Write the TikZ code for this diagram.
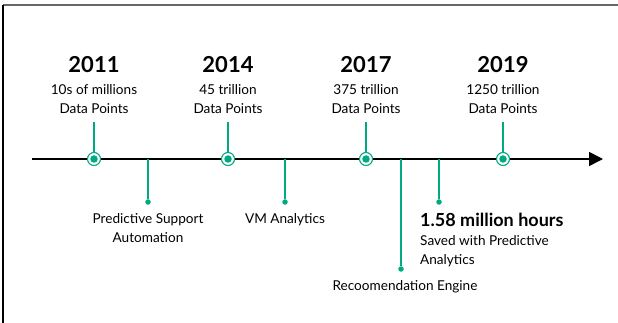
\documentclass[tikz,border=0pt]{standalone}
\usepackage{fontspec}
\setmainfont{Lato}
\usetikzlibrary{arrows.meta}
\definecolor{hpegreen}{HTML}{01A982}
\tikzset{
  x=1pt, y=-1pt,
  stem/.style={draw=hpegreen, line width=1.2pt},
  ring/.style={circle, draw=hpegreen, line width=1.1pt, fill=white, minimum size=13pt, inner sep=0pt},
  core/.style={circle, fill=hpegreen, minimum size=7.5pt, inner sep=0pt},
  tip/.style={circle, fill=hpegreen, minimum size=5.5pt, inner sep=0pt},
  year/.style={font=\fontsize{22}{24}\selectfont\bfseries, inner sep=0pt},
  lbl/.style={font=\fontsize{13.6}{19}\selectfont, align=center, inner sep=0pt},
  lbll/.style={font=\fontsize{13.6}{19}\selectfont, align=left, inner sep=0pt, anchor=north west},
}
\begin{document}
\begin{tikzpicture}
\useasboundingbox (0,0) rectangle (618,323);
% frame
\draw[gray!80!black, line width=1.3pt] (3,5) -- (618,5);
\draw[black, line width=1.3pt] (3,5) -- (3,323);
% timeline
\coordinate (start) at (32,159);
\coordinate (end) at (603,159);
\draw[line width=1.6pt, -{Triangle[length=14pt,width=14pt]}] (start) -- (end);

% top milestones
\foreach \n/\x/\yr/\a/\b in {a/94/2011/10s of millions/Data Points, b/228/2014/45 trillion/Data Points, c/366/2017/375 trillion/Data Points, d/503/2019/1250 trillion/Data Points}{
  \coordinate (\n top) at (\x,122);
  \node[ring] (\n ring) at (\x,159) {};
  \draw[stem] (\n top) -- (\n ring);
  \node[core] at (\n ring) {};
  \node[year] (\n year) at (\x,65) {\yr};
  \node[lbl, anchor=north] (\n txt) at (\x,84) {\a\\\b};
}

% bottom items
\foreach \n/\x/\y in {p/148/202, v/285/202, r/401/269, h/439/202}{
  \coordinate (\n base) at (\x,159);
  \node[tip] (\n dot) at (\x,\y) {};
  \draw[stem] (\n base) -- (\n dot);
}
\node[lbl, anchor=north] (ptxt) at (148,213) {Predictive Support\\Automation};
\node[lbl, anchor=north] (vtxt) at (285,213) {VM Analytics};
\node[lbl, anchor=north] (rtxt) at (405,280) {Recoomendation Engine};
\node[font=\fontsize{18}{20}\selectfont\bfseries, anchor=west, inner sep=0pt] (htitle) at (420,220) {1.58 million hours};
\node[lbll] (htxt) at (420,235) {Saved with Predictive\\Analytics};
\end{tikzpicture}
\end{document}
